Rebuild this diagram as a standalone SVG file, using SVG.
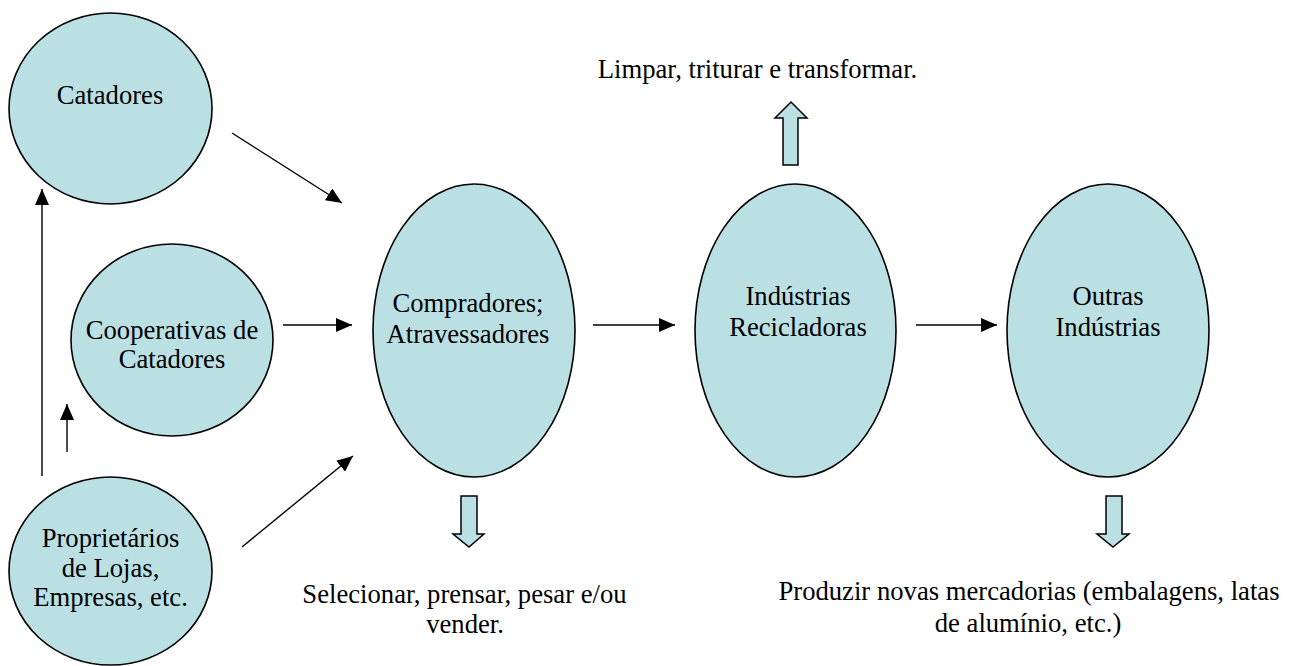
<svg xmlns="http://www.w3.org/2000/svg" width="1294" height="666" viewBox="0 0 1294 666">
<style>
.node{fill:#BBE0E3;stroke:#000;stroke-width:1.6}
.lbl{font-family:"Liberation Serif","Times New Roman",serif;font-size:26.67px;fill:#000;text-anchor:middle}
.conn{stroke:#000;stroke-width:1.4;fill:none}
.block{fill:#BBE0E3;stroke:#000;stroke-width:1.5;stroke-linejoin:miter}
</style>
<defs>
<marker id="ah" markerUnits="userSpaceOnUse" markerWidth="16" markerHeight="14" refX="16" refY="7" orient="auto">
<path d="M0,0 L16,7 L0,14 z" fill="#000"/>
</marker>
</defs>
<rect width="1294" height="666" fill="#fff"/>
<g id="catadores">
<ellipse class="node" cx="110.5" cy="108.5" rx="101.5" ry="95.5"/>
<text class="lbl" x="110" y="104">Catadores</text>
</g>
<g id="cooperativas">
<ellipse class="node" cx="172" cy="340" rx="101" ry="96"/>
<text class="lbl" x="172" y="339">Cooperativas de</text>
<text class="lbl" x="172" y="368">Catadores</text>
</g>
<g id="proprietarios">
<ellipse class="node" cx="110.5" cy="571" rx="101.5" ry="94"/>
<text class="lbl" x="110.5" y="547">Proprietários</text>
<text class="lbl" x="110.5" y="577">de Lojas,</text>
<text class="lbl" x="110.5" y="606">Empresas, etc.</text>
</g>
<g id="compradores">
<ellipse class="node" cx="474" cy="330.5" rx="101" ry="146.5"/>
<text class="lbl" x="468" y="312">Compradores;</text>
<text class="lbl" x="468" y="343">Atravessadores</text>
</g>
<g id="industrias-recicladoras">
<ellipse class="node" cx="795.5" cy="330.5" rx="100.5" ry="146.5"/>
<text class="lbl" x="798" y="305">Indústrias</text>
<text class="lbl" x="798" y="336">Recicladoras</text>
</g>
<g id="outras-industrias">
<ellipse class="node" cx="1108" cy="330.5" rx="101" ry="146.5"/>
<text class="lbl" x="1108" y="305">Outras</text>
<text class="lbl" x="1108" y="336">Indústrias</text>
</g>
<g id="connectors">
<line class="conn" x1="42" y1="476" x2="42" y2="189" marker-end="url(#ah)"/>
<line class="conn" x1="67" y1="452" x2="67" y2="404" marker-end="url(#ah)"/>
<line class="conn" x1="232" y1="133" x2="342" y2="203" marker-end="url(#ah)"/>
<line class="conn" x1="283" y1="325" x2="352" y2="325" marker-end="url(#ah)"/>
<line class="conn" x1="242" y1="547" x2="353" y2="456" marker-end="url(#ah)"/>
<line class="conn" x1="593" y1="325" x2="675" y2="325" marker-end="url(#ah)"/>
<line class="conn" x1="916" y1="325" x2="997" y2="325" marker-end="url(#ah)"/>
<polygon class="block" points="461,496 477,496 477,534 484,534 469,547 453,534 461,534"/>
<polygon class="block" points="1106,496 1122,496 1122,534 1129,534 1113,547 1097,534 1106,534"/>
<polygon class="block" points="783,165 798,165 798,118 807,118 791,102 775,118 783,118"/>
</g>
<g id="notes">
<text class="lbl" x="757.5" y="78">Limpar, triturar e transformar.</text>
<text class="lbl" x="464.5" y="603">Selecionar, prensar, pesar e/ou</text>
<text class="lbl" x="465" y="633">vender.</text>
<text class="lbl" x="1029" y="600">Produzir novas mercadorias (embalagens, latas</text>
<text class="lbl" x="1028" y="632">de alumínio, etc.)</text>
</g>
</svg>
